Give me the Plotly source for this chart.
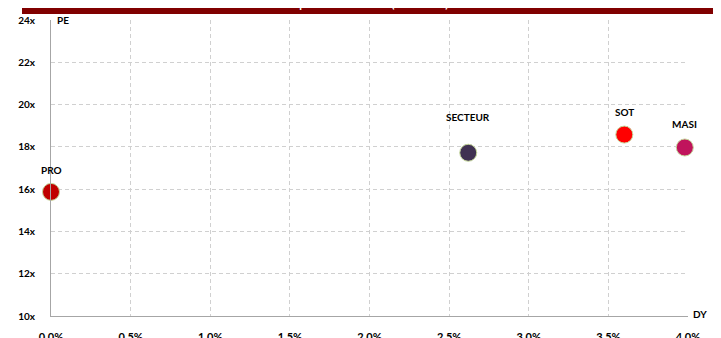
import plotly.graph_objects as go

names = ["PRO", "SECTEUR", "SOT", "MASI"]
dy = [0.0, 0.0262, 0.0360, 0.0398]
pe = [15.87, 17.72, 18.58, 17.97]
colors = ["#C00000", "#403152", "#FF0000", "#C0145C"]
label_shift = [22, 36, 23, 23]

x_ticks = [0.0, 0.005, 0.01, 0.015, 0.02, 0.025, 0.03, 0.035, 0.04]
x_tick_labels = ["0.0%", "0.5%", "1.0%", "1.5%", "2.0%", "2.5%", "3.0%", "3.5%", "4.0%"]
y_ticks = [10, 12, 14, 16, 18, 20, 22, 24]
y_tick_labels = ["10x", "12x", "14x", "16x", "18x", "20x", "22x", "24x"]
title = "Multiples des P/E et DY (base 2017)"

# the page body adds an 8px offset; figure coordinates are page coordinates minus 8
OFF = 8
W, H = 721 - OFF, 338 - OFF
L, T = 51 - OFF, 20 - OFF
pw, ph = 637, 296
R, B = W - L - pw, H - T - ph

def px_x(p):
    return (p - OFF - L) / pw

def px_y(p):
    return (H - B - (p - OFF)) / ph

font = "Lato"

fig = go.Figure()
fig.add_trace(go.Scatter(
    x=dy, y=pe, mode="markers",
    marker=dict(size=17, color=colors, line=dict(color="#C4D79B", width=1)),
    cliponaxis=False, showlegend=False, hoverinfo="skip",
))

annotations = []
for n, x, y, s in zip(names, dy, pe, label_shift):
    annotations.append(dict(x=x, y=y, xref="x", yref="y", text="<b>%s</b>" % n,
                            showarrow=False, yshift=s,
                            font=dict(family=font, size=10, color="#000000")))
annotations.append(dict(x=px_x(55), y=px_y(20), xref="paper", yref="paper", text="<b>PE</b>",
                        showarrow=False, xanchor="left", yanchor="middle",
                        font=dict(family=font, size=10, color="#000000")))
annotations.append(dict(x=px_x(691), y=px_y(314), xref="paper", yref="paper", text="<b>DY</b>",
                        showarrow=False, xanchor="left", yanchor="middle",
                        font=dict(family=font, size=10, color="#000000")))
annotations.append(dict(x=px_x(360), y=px_y(12), xref="paper", yref="paper", text="<b>%s</b>" % title,
                        showarrow=False, xanchor="center", yanchor="bottom",
                        font=dict(family=font, size=11, color="#FFFFFF")))

shapes = [dict(type="rect", xref="paper", yref="paper", x0=px_x(22), x1=px_x(721),
               y0=px_y(14), y1=px_y(0), fillcolor="#800000", line=dict(width=0), layer="below")]

grid_dash = "4px,3px"

fig.update_layout(
    width=W, height=H,
    margin=dict(l=L, r=R, t=T, b=B, pad=0, autoexpand=False),
    paper_bgcolor="white", plot_bgcolor="white",
    annotations=annotations, shapes=shapes,
    xaxis=dict(range=[0, 0.04], tickvals=x_ticks, ticktext=x_tick_labels,
               showgrid=True, gridcolor="#D0D0D0", griddash=grid_dash, gridwidth=1,
               showline=True, linecolor="#A6A6A6", linewidth=1, zeroline=False,
               ticks="", ticklabelstandoff=11, automargin=False,
               tickfont=dict(family=font, size=11, color="#000000", weight="bold")),
    yaxis=dict(range=[10, 24], tickvals=y_ticks, ticktext=y_tick_labels,
               showgrid=True, gridcolor="#D0D0D0", griddash=grid_dash, gridwidth=1,
               showline=True, linecolor="#A6A6A6", linewidth=1, zeroline=False,
               ticks="", ticklabelstandoff=13, automargin=False,
               tickfont=dict(family=font, size=10, color="#000000", weight="bold")),
)

fig.write_html("out.html")
